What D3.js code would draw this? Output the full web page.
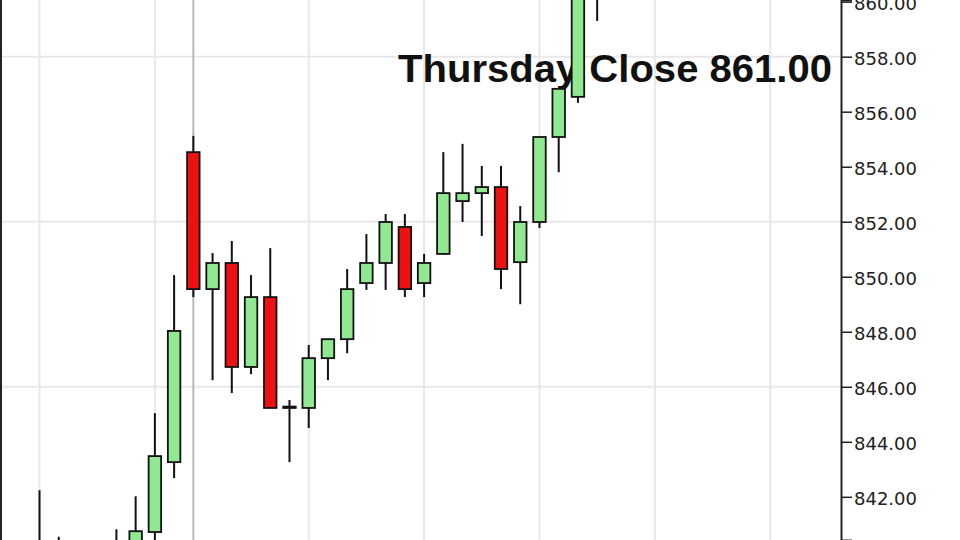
<!DOCTYPE html>
<html>
<head>
<meta charset="utf-8">
<script src="https://cdn.jsdelivr.net/npm/d3@7"></script>
<style>
  html, body { margin: 0; padding: 0; background: #fff; }
  svg { display: block; }
</style>
</head>
<body>
<svg id="chart" width="960" height="540"></svg>
<script>
// ---- Data (bar index, open, high, low, close) ----
const barIndex = [2, 3, 4, 5, 6, 7, 8, 9, 10, 11, 12, 13, 14, 15, 16, 17, 18, 19, 20, 21, 22, 23, 24, 25, 26, 27, 28, 29, 30, 31];
const opens  = [840.0, 840.1, 839.5, 839.9, 839.6, 839.9, 840.72, 843.26, 854.53, 849.55, 850.50, 846.72, 849.26, 845.23, 845.23, 847.04, 847.73, 849.77, 850.50, 851.81, 849.77, 850.83, 852.75, 853.04, 853.26, 850.53, 851.99, 855.08, 856.54, 860.8];
const highs  = [842.24, 840.55, 840.2, 840.3, 840.82, 842.02, 845.04, 850.06, 855.12, 850.86, 851.30, 850.06, 851.04, 845.52, 847.52, 847.75, 850.28, 851.55, 852.28, 852.28, 850.83, 854.53, 854.83, 854.03, 854.03, 852.57, 855.08, 856.83, 861.0, 862.0];
const lows   = [838.0, 839.0, 839.0, 839.2, 839.3, 839.6, 840.3, 842.68, 849.26, 846.24, 845.77, 846.46, 845.23, 843.26, 844.50, 846.24, 847.22, 849.52, 849.52, 849.26, 849.26, 850.80, 851.99, 851.48, 849.55, 849.0, 851.77, 853.80, 856.32, 859.3];
const closes = [839.6, 839.8, 839.9, 839.4, 840.1, 840.75, 843.48, 848.03, 849.55, 850.50, 846.72, 849.26, 845.23, 845.28, 847.04, 847.73, 849.55, 850.50, 851.99, 849.55, 850.50, 853.04, 853.04, 853.26, 850.28, 851.99, 855.08, 856.83, 861.0, 861.5];

const yTicks = [842, 844, 846, 848, 850, 852, 854, 856, 858, 860];
const hGridValues = [840, 846, 852, 858];
const vGridIndices = [2, 8, 16, 22, 28, 34, 40];
const sessionBreakIndices = [10];
const titleText = "Thursday Close 861.00";

const candles = barIndex.map((i, k) => ({ i, o: opens[k], h: highs[k], l: lows[k], c: closes[k] }));

// ---- Layout ----
const W = 960, H = 540;
const plotRight = 841;
const svg = d3.select("#chart");

const x = d3.scaleLinear().domain([0, 43.68]).range([1.04, plotRight]);
const y = d3.scaleLinear().domain([840.43, 860.06]).range([H, 0]);

svg.append("rect").attr("width", W).attr("height", H).attr("fill", "#fff");

const plot = svg.append("g");
plot.append("clipPath").attr("id", "clip")
  .append("rect").attr("x", 0).attr("y", 0).attr("width", plotRight).attr("height", H);

const g = plot.append("g").attr("clip-path", "url(#clip)");

// grid
g.selectAll("line.hg").data(hGridValues).enter().append("line")
  .attr("x1", 0).attr("x2", plotRight)
  .attr("y1", d => y(d)).attr("y2", d => y(d))
  .attr("stroke", "#e8e8e8").attr("stroke-width", 2);

g.selectAll("line.vg").data(vGridIndices).enter().append("line")
  .attr("x1", d => x(d)).attr("x2", d => x(d))
  .attr("y1", 0).attr("y2", H)
  .attr("stroke", "#e8e8e8").attr("stroke-width", 2);

g.selectAll("line.sb").data(sessionBreakIndices).enter().append("line")
  .attr("x1", d => x(d)).attr("x2", d => x(d))
  .attr("y1", 0).attr("y2", H)
  .attr("stroke", "#b8b8b8").attr("stroke-width", 2);

// title text (behind candles)
svg.append("text")
  .attr("x", 398).attr("y", 82)
  .attr("font-family", "'Liberation Sans', Arial, sans-serif")
  .attr("font-weight", "bold")
  .attr("font-size", 39)
  .attr("textLength", 434)
  .attr("lengthAdjust", "spacingAndGlyphs")
  .attr("fill", "#111")
  .text(titleText);

// candles
const bw = 12.5;
const cg = svg.append("g").attr("clip-path", "url(#clip)");
const cs = cg.selectAll("g.c").data(candles).enter().append("g");

cs.append("line")
  .attr("x1", d => x(d.i)).attr("x2", d => x(d.i))
  .attr("y1", d => y(d.h)).attr("y2", d => y(d.l))
  .attr("stroke", "#111").attr("stroke-width", 2);

cs.append("rect")
  .attr("x", d => x(d.i) - bw / 2)
  .attr("width", bw)
  .attr("y", d => y(Math.max(d.o, d.c)))
  .attr("height", d => Math.max(1, Math.abs(y(d.o) - y(d.c))))
  .attr("fill", d => d.c >= d.o ? "#90e890" : "#ee1111")
  .attr("stroke", "#111").attr("stroke-width", 1.8);

// left border
svg.append("line").attr("x1", 1).attr("x2", 1).attr("y1", 0).attr("y2", H)
  .attr("stroke", "#222").attr("stroke-width", 2);

// right axis
const axis = d3.axisRight(y).tickValues(yTicks).tickFormat(d3.format(".2f"))
  .tickSize(11).tickPadding(2);
const ag = svg.append("g").attr("transform", `translate(${plotRight},0)`).call(axis);
ag.select(".domain").attr("stroke", "#222").attr("stroke-width", 2);
ag.selectAll(".tick line").attr("stroke", "#222").attr("stroke-width", 1.5);
ag.selectAll(".tick text")
  .attr("font-family", "'DejaVu Sans', Verdana, sans-serif")
  .attr("font-size", 18)
  .attr("fill", "#222")
  .attr("dy", "0.45em");
</script>
</body>
</html>
